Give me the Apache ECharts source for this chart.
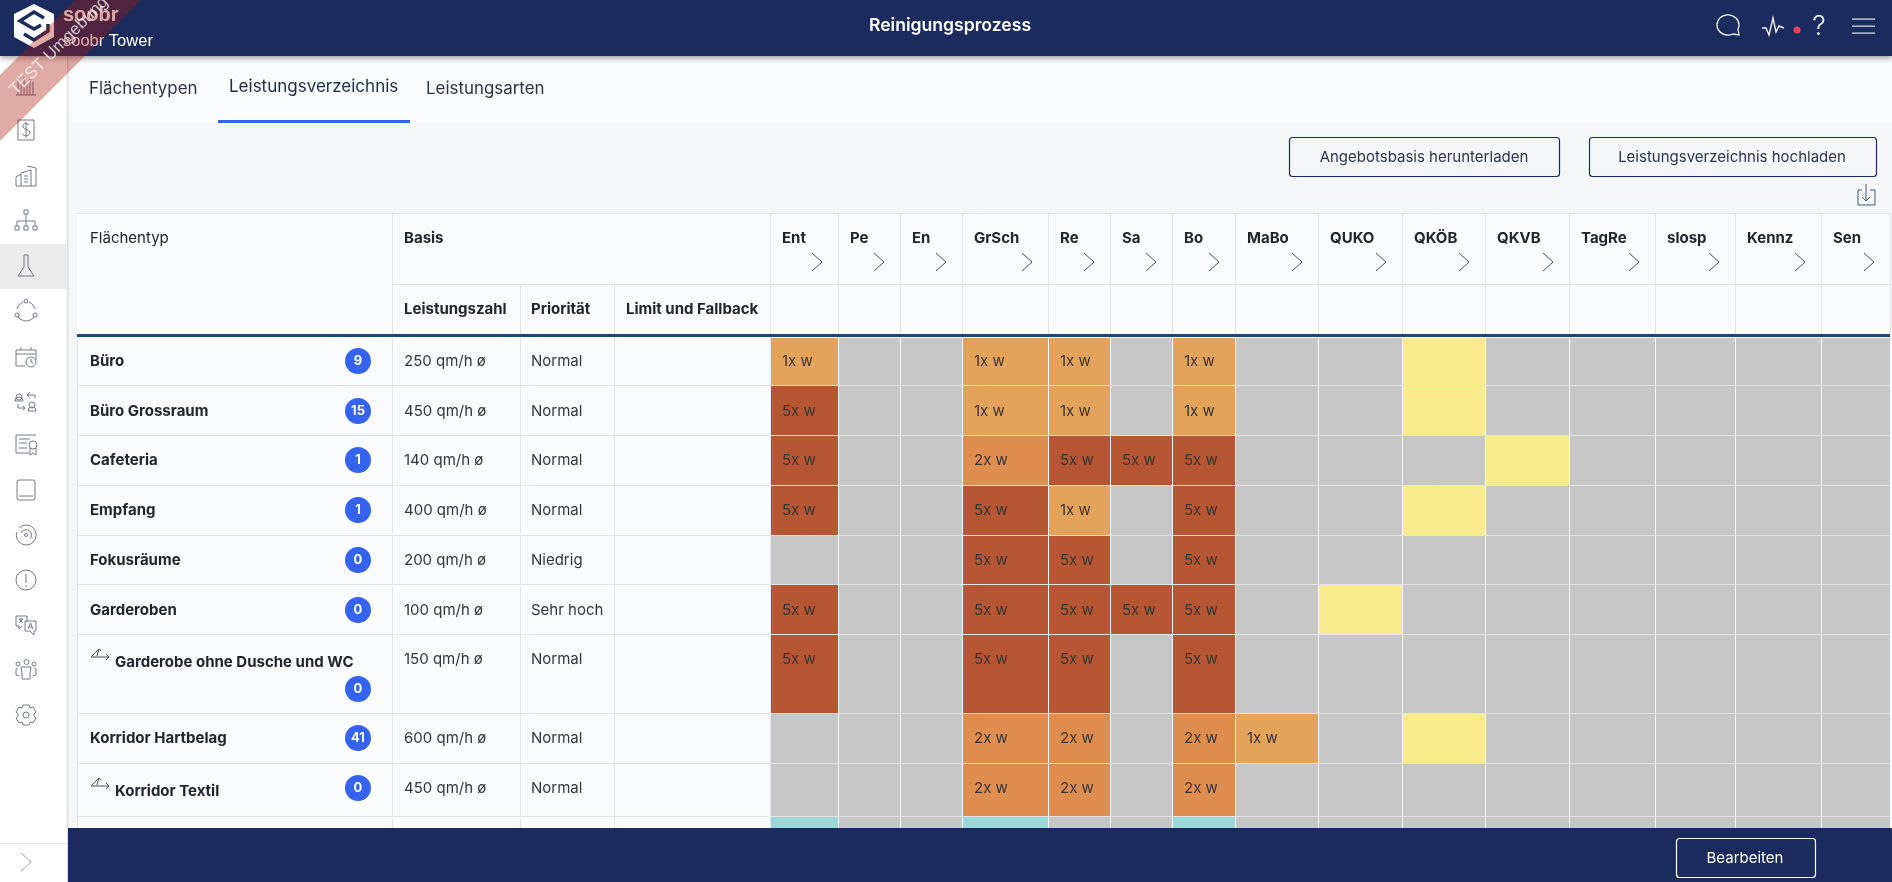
<!DOCTYPE html>
<html>
<head>
<meta charset="utf-8">
<title>Reinigungsprozess</title>
<style>
  html, body { margin: 0; height: 100%; background: #f5f6f8; }
  #main { width: 1892px; height: 882px; }
</style>
<script src="https://cdn.jsdelivr.net/npm/echarts@6/dist/echarts.min.js"></script>
</head>
<body>
<div id="main"></div>
<script>
// table content
const columns = ['Ent', 'Pe', 'En', 'GrSch', 'Re', 'Sa', 'Bo', 'MaBo', 'QUKO', 'QKÖB', 'QKVB', 'TagRe', 'slosp', 'Kennz', 'Sen'];
const areaTypes = ['Büro', 'Büro Grossraum', 'Cafeteria', 'Empfang', 'Fokusräume', 'Garderoben', 'Garderobe ohne Dusche und WC', 'Korridor Hartbelag', 'Korridor Textil', ''];
const counts = [9, 15, 1, 1, 0, 0, 0, 41, 0, null];
const performance = ['250 qm/h ø', '450 qm/h ø', '140 qm/h ø', '400 qm/h ø', '200 qm/h ø', '100 qm/h ø', '150 qm/h ø', '600 qm/h ø', '450 qm/h ø', ''];
const priorities = ['Normal', 'Normal', 'Normal', 'Normal', 'Niedrig', 'Sehr hoch', 'Normal', 'Normal', 'Normal', ''];
const linkedRows = [6, 8];

// one list per row: '' = grey, Y = yellow, T = teal, otherwise the frequency
const rowBuero = ['1x w', '', '', '1x w', '1x w', '', '1x w', '', '', 'Y', '', '', '', '', ''];
const rowGrossraum = ['5x w', '', '', '1x w', '1x w', '', '1x w', '', '', 'Y', '', '', '', '', ''];
const rowCafeteria = ['5x w', '', '', '2x w', '5x w', '5x w', '5x w', '', '', '', 'Y', '', '', '', ''];
const rowEmpfang = ['5x w', '', '', '5x w', '1x w', '', '5x w', '', '', 'Y', '', '', '', '', ''];
const rowFokus = ['', '', '', '5x w', '5x w', '', '5x w', '', '', '', '', '', '', '', ''];
const rowGarderoben = ['5x w', '', '', '5x w', '5x w', '5x w', '5x w', '', 'Y', '', '', '', '', '', ''];
const rowGarderobeOhne = ['5x w', '', '', '5x w', '5x w', '', '5x w', '', '', '', '', '', '', '', ''];
const rowHartbelag = ['', '', '', '2x w', '2x w', '', '2x w', '1x w', '', 'Y', '', '', '', '', ''];
const rowTextil = ['', '', '', '2x w', '2x w', '', '2x w', '', '', '', '', '', '', '', ''];
const rowCutOff = ['T', '', '', 'T', '', '', 'T', '', '', '', '', '', '', '', ''];
const rows = [rowBuero, rowGrossraum, rowCafeteria, rowEmpfang, rowFokus, rowGarderoben, rowGarderobeOhne, rowHartbelag, rowTextil, rowCutOff];

// layout of the table, in axis units (the axes run 1:1 with the page)
const colEdges = [770, 838, 900, 962, 1048, 1110, 1172, 1235, 1318, 1402, 1485, 1569, 1655, 1735, 1821, 1890];
const rowEdges = [337, 385, 435, 485, 535, 584, 634, 713, 763, 816, 866];
const rowTextY = [361, 411, 460, 510, 560, 610, 659, 738, 788, 840];
const leftEdges = [77, 392, 520, 614, 770];

const cellColors = { '1x w': '#e3a35a', '2x w': '#de8d4e', '5x w': '#b65632', Y: '#f9ea8e', T: '#9bd8d8', '': '#c7c7c7' };
const NAVY = '#1b2b5e';
const BLUE = '#3563f0';
const LINE = '#e2e4e8';
const INK = '#22252c';
const FONT = 'Inter, "Noto Sans", sans-serif';

const cellData = [];
rows.forEach((row, r) => row.forEach((v, c) => cellData.push([c, r, v])));
const rowData = areaTypes.map((name, r) => [r]);

function txt(text, x, y, font, fill, align) {
  return { type: 'text', style: { text, x, y, font, fill: fill || INK, align: align || 'left', verticalAlign: 'middle' } };
}

function renderCell(params, api) {
  const c = api.value(0), r = api.value(1);
  const v = rows[r][c];
  const p0 = api.coord([colEdges[c], rowEdges[r]]);
  const p1 = api.coord([colEdges[c + 1], rowEdges[r + 1]]);
  const rect = { type: 'rect', shape: { x: p0[0] + 1, y: p0[1] + 1, width: p1[0] - p0[0] - 1, height: p1[1] - p0[1] - 1 }, style: { fill: cellColors[v] } };
  const children = [rect];
  if (v.includes('x')) {
    const p = api.coord([colEdges[c] + 12, rowTextY[r]]);
    children.push(txt(v, p[0], p[1], '15px ' + FONT, '#3a3532'));
  }
  return { type: 'group', children };
}

function renderRow(params, api) {
  const r = api.value(0);
  const top = api.coord([leftEdges[0], rowEdges[r]]);
  const bottom = api.coord([leftEdges[4], rowEdges[r + 1]]);
  const y = rowTextY[r];
  const linked = linkedRows.includes(r);
  const children = [
    { type: 'rect', shape: { x: top[0], y: top[1] + 1, width: bottom[0] - top[0], height: bottom[1] - top[1] - 1 }, style: { fill: '#fafbfd' } },
    { type: 'line', shape: { x1: top[0], y1: bottom[1] + 0.5, x2: 1890, y2: bottom[1] + 0.5 }, style: { stroke: LINE, lineWidth: 1 } }
  ];
  leftEdges.forEach((e) => {
    const x = api.coord([e, 0])[0] + 0.5;
    children.push({ type: 'line', shape: { x1: x, y1: top[1], x2: x, y2: bottom[1] }, style: { stroke: LINE, lineWidth: 1 } });
  });
  const nameY = linked ? y + 3 : y;
  children.push(txt(areaTypes[r], linked ? 115 : 90, nameY, '700 15px ' + FONT));
  children.push(txt(performance[r], 404, y, '15px ' + FONT, '#33363d'));
  children.push(txt(priorities[r], 531, y, '15px ' + FONT, '#33363d'));
  if (counts[r] !== null) {
    const by = r === 6 ? 689 : y;
    children.push({ type: 'circle', shape: { cx: 358, cy: by, r: 13 }, style: { fill: BLUE } });
    children.push(txt(String(counts[r]), 358, by, '700 13px ' + FONT, '#fff', 'center'));
  }
  if (linked) {
    children.push({ type: 'path', x: 91, y: y - 10, shape: { pathData: 'M0 8 L8 0 L10 2 M8 0 L6 7 M0 8 L18 8 M15 5 L18 8 L15 11' }, style: { fill: null, stroke: '#4b4e58', lineWidth: 1 } });
  }
  return { type: 'group', children };
}

// thin icons of the side bar and the header, drawn around 0,0
const sideIcons = [
  [85, 'M-10 10 L10 10 M-8 -8 L-8 10 M-5 -4 L-5 10 M-2 -8 L-2 10 M1 -2 L1 10 M4 -6 L4 10 M7 -3 L7 10'],
  [130, 'M-8 -10 L8 -10 L8 10 L-8 10 Z M3 -5 C0 -8 -4 -6 -3 -3 C-2 0 3 -1 4 2 C4 6 -1 7 -4 4 M0 -8 L0 8'],
  [176, 'M-10 10 L-10 1 L-5 -2 L-5 10 M-5 -3 L5 -6 L5 10 M1 -10 L10 -8 L10 10 L-10 10 M-2 0 L2 0 M-2 3 L2 3 M-2 6 L2 6'],
  [220, 'M-2 -10 L2 -10 L2 -6 L-2 -6 Z M0 -6 L0 1 M-9 1 L9 1 M-9 1 L-9 6 M0 1 L0 6 M9 1 L9 6 M-11 6 L-7 6 L-7 10 L-11 10 Z M-2 6 L2 6 L2 10 L-2 10 Z M7 6 L11 6 L11 10 L7 10 Z'],
  [266, 'M-2 -11 L2 -11 L2 1 L8 10 L-8 10 L-2 1 Z'],
  [311, 'M-9 -2 A10 10 0 0 1 -3 -9 M3 -9 A10 10 0 0 1 9 -2 M8 6 A10 10 0 0 1 -8 6 M-2 -10 A2 2 0 1 1 2 -10 A2 2 0 1 1 -2 -10 M-11 4 A2 2 0 1 1 -7 4 A2 2 0 1 1 -11 4 M7 4 A2 2 0 1 1 11 4 A2 2 0 1 1 7 4'],
  [356, 'M-1 10 L-10 10 L-10 -6 L10 -6 L10 4 M-10 -2 L10 -2 M-5 -9 L-5 -6 M5 -9 L5 -6 M0 6 A5 5 0 1 1 10 6 A5 5 0 1 1 0 6 M5 3 L5 6 L7 7'],
  [401, 'M-10 -4 A3 3 0 1 1 -4 -4 A3 3 0 1 1 -10 -4 M-11 0 A3 3 0 0 1 -3 0 L-11 0 M4 -9 L1 -6 L4 -3 M1 -6 L9 -6 L9 -3 M-8 3 L-8 7 L-1 7 M-3 5 L-1 7 L-3 9 M3 4 A3 3 0 1 1 9 4 A3 3 0 1 1 3 4 M2 10 A4 4 0 0 1 10 10 L2 10'],
  [445, 'M10 -10 L-10 -10 L-10 8 L3 8 M-7 -6 L4 -6 M-7 -2 L1 -2 M-7 3 L1 3 M3 0 A4 4 0 1 1 11 0 A4 4 0 1 1 3 0 M4 3 L4 10 L7 8 L10 10 L10 3'],
  [490, 'M-7 -10 L7 -10 Q9 -10 9 -8 L9 8 Q9 10 7 10 L-7 10 Q-9 10 -9 8 L-9 -8 Q-9 -10 -7 -10 Z M-7 6 L7 6'],
  [535, 'M-7 -7 A10 10 0 1 1 -9 4 M-9 4 A10 10 0 0 1 -9 -3 M-5 -2 A5.5 5.5 0 1 1 4 4 M-1.5 0 A1.5 1.5 0 1 1 1.5 0 A1.5 1.5 0 1 1 -1.5 0'],
  [580, 'M-10 0 A10 10 0 1 1 10 0 A10 10 0 1 1 -10 0 M0 -6 L0 3 M0 5 L0 7'],
  [625, 'M1 -3 L1 -9 L-10 -9 L-10 1 L-7 1 L-7 4 L-4 1 M-7 -6 L-3 -6 M-5 -7 L-5 -6 M-7 -2 L-3 -6 M-3 -2 L-7 -6 M-1 -4 L10 -4 L10 6 L8 6 L8 10 L4 6 L-1 6 Z M2 4 L4.5 -2 L7 4 M3 2 L6 2'],
  [670, 'M-2 -8 A2.5 2.5 0 1 1 3 -8 A2.5 2.5 0 1 1 -2 -8 M-10 -6 A2 2 0 1 1 -6 -6 A2 2 0 1 1 -10 -6 M6 -6 A2 2 0 1 1 10 -6 A2 2 0 1 1 6 -6 M-5 -3 L5 -3 L4 3 L4 9 L-4 9 L-4 3 Z M-8 -2 L-10 -1 L-10 5 L-7 6 M8 -2 L10 -1 L10 5 L7 6'],
  [715, 'M-3 -10 L3 -10 L4 -7 L7 -8 L10 -3 L8 -1 L8 1 L10 3 L7 8 L4 7 L3 10 L-3 10 L-4 7 L-7 8 L-10 3 L-8 1 L-8 -1 L-10 -3 L-7 -8 L-4 -7 Z M-3 0 A3 3 0 1 1 3 0 A3 3 0 1 1 -3 0']
];

// paths only exist in custom series, so the icons get two small series of their own
function icon(x, y, pathData, stroke, lineWidth) {
  return { type: 'path', x, y, shape: { pathData }, style: { fill: null, stroke, lineWidth: lineWidth || 1 } };
}
function box(x, y, w, h, fill, z, extra) {
  return { type: 'rect', z: z || 0, silent: true, shape: { x, y, width: w, height: h, r: (extra && extra.r) || 0 }, style: Object.assign({ fill }, extra && extra.style) };
}
function label(text, x, y, font, fill, align, z) {
  return { type: 'text', z: z || 1, silent: true, x, y, style: { text, font, fill: fill || INK, align: align || 'left', verticalAlign: 'middle' } };
}
function outlineButton(x, y, w, h, stroke, z) {
  return box(x + 0.5, y + 0.5, w, h, 'transparent', z, { r: 3, style: { stroke, lineWidth: 1.2 } });
}

const under = [
  // table head
  box(77, 213, 1813, 122, '#fafbfd'),
  { type: 'line', z: 1, silent: true, shape: { x1: 77, y1: 213.5, x2: 1890, y2: 213.5 }, style: { stroke: LINE } },
  { type: 'line', z: 1, silent: true, shape: { x1: 392, y1: 284.5, x2: 1890, y2: 284.5 }, style: { stroke: LINE } },
  box(77, 334, 1813, 3, '#1c4a75', 4),
  label('Flächentyp', 90, 238, '15px ' + FONT),
  label('Basis', 404, 238, '700 15px ' + FONT),
  label('Leistungszahl', 404, 309, '700 15px ' + FONT),
  label('Priorität', 531, 309, '700 15px ' + FONT),
  label('Limit und Fallback', 626, 309, '700 15px ' + FONT),
  // tabs
  box(68, 56, 1824, 67, '#fafbfd'),
  box(218, 120, 192, 3, BLUE, 1),
  label('Flächentypen', 89, 89, '16.9px ' + FONT, '#2c3242'),
  label('Leistungsverzeichnis', 229, 87, '17px ' + FONT, '#1f2a4a'),
  label('Leistungsarten', 426, 89, '16.9px ' + FONT, '#2c3242'),
  // buttons above the table
  outlineButton(1289, 137, 270, 39, NAVY),
  label('Angebotsbasis herunterladen', 1424, 157, '15px ' + FONT, '#2b3550', 'center'),
  outlineButton(1589, 137, 287, 39, NAVY),
  label('Leistungsverzeichnis hochladen', 1732, 157, '15px ' + FONT, '#2b3550', 'center')
];
[392, 520, 614].concat(colEdges).forEach((x, i) => {
  const y1 = i === 0 || i > 2 ? 213 : 284;
  under.push({ type: 'line', z: 1, silent: true, shape: { x1: x + 0.5, y1, x2: x + 0.5, y2: 334 }, style: { stroke: LINE } });
});
columns.forEach((name, i) => {
  under.push(label(name, colEdges[i] + 12, 238, '700 15px ' + FONT));
});
const iconsLow = [icon(1866, 195, 'M-4 -5 L-8 -5 L-8 10 L9 10 L9 -5 L4 -5 M0 -11 L0 6 M-4 2 L0 6 L4 2', '#3a5a8c')];
columns.forEach((name, i) => {
  iconsLow.push(icon(colEdges[i + 1] - 21, 262, 'M-5 -9 L5 0 L-5 9', '#3f4a63'));
});

const over = [
  // side bar
  box(0, 56, 67, 826, '#ffffff', 10),
  box(67, 56, 1.5, 826, '#dddddd', 10),
  box(0, 244, 67, 45, '#ebebeb', 10),
  box(0, 843, 67, 1, '#e2e2e2', 11),
  // footer
  box(68, 828, 1824, 54, NAVY, 10),
  outlineButton(1676, 838, 139, 39, '#ffffff', 11),
  label('Bearbeiten', 1745, 858, '15px ' + FONT, '#ffffff', 'center', 11),
  // header
  box(0, 0, 1892, 56, NAVY, 12, { style: { shadowBlur: 6, shadowOffsetY: 2, shadowColor: 'rgba(0,0,0,0.4)' } }),
  { type: 'polygon', z: 13, silent: true, shape: { points: [[34, 4], [54, 14], [54, 37], [34, 48], [14, 37], [14, 14]] }, style: { fill: '#ffffff' } },
  label('soobr', 63, 15, '700 20px "Liberation Sans", sans-serif', '#ffffff', 'left', 13),
  label('soobr Tower', 63, 41, '16.5px "Liberation Sans", sans-serif', '#ffffff', 'left', 13),
  label('Reinigungsprozess', 950, 26, '600 17.6px ' + FONT, '#ffffff', 'center', 13),
  { type: 'circle', z: 13, silent: true, shape: { cx: 1797, cy: 30, r: 3.5 }, style: { fill: '#ef4056' } },
  label('?', 1819, 27, '300 27px ' + FONT, '#f0f2f6', 'center', 13),
  box(1852, 18.5, 23, 1.2, '#e6e8ee', 13),
  box(1852, 25.5, 23, 1.2, '#e6e8ee', 13),
  box(1852, 32.5, 23, 1.2, '#e6e8ee', 13),
  // test banner across the corner
  { type: 'polygon', z: 20, silent: true, shape: { points: [[0, 75], [75, 0], [141, 0], [0, 141]] }, style: { fill: 'rgba(170,24,14,0.37)' } },
  { type: 'text', z: 21, silent: true, x: 59, y: 46, rotation: Math.PI / 4, style: { text: 'TEST Umgebung', font: '17px "Liberation Sans", sans-serif', fill: 'rgba(255,255,255,0.72)', align: 'center', verticalAlign: 'middle' } }
];
const iconsHigh = [
  icon(26, 862, 'M-5 -9 L5 0 L-5 9', '#9a9da6'),
  icon(0, 0, 'M44 18 L34 12 L20 21 L34 29 L41 25', NAVY, 3.5),
  icon(0, 0, 'M48 24 L48 31 L34 40 L24 34', NAVY, 3.5),
  icon(1728, 25, 'M-11 0 A11 10 0 1 1 10 4 L11 10 L5 9 A11 10 0 0 1 -11 0', '#f0f2f6', 1.3),
  icon(1773, 27, 'M-11 1 L-7 1 L-4 8 L0 -9 L3 5 L6 -1 L11 1', '#f0f2f6', 1.4)
];
sideIcons.forEach((d) => iconsHigh.push(icon(26, d[0], d[1], '#74778a')));

function iconSeries(list, z) {
  return { type: 'custom', coordinateSystem: 'none', z, silent: true, data: list.map((el, i) => i), renderItem: (params) => list[params.dataIndex] };
}

const chart = echarts.init(document.getElementById('main'));
chart.setOption({
  animation: false,
  backgroundColor: '#f5f6f8',
  tooltip: { show: false },
  grid: { left: 0, right: 0, top: 0, bottom: 0 },
  xAxis: { type: 'value', min: 0, max: 1892, show: false },
  yAxis: { type: 'value', min: 0, max: 882, inverse: true, show: false },
  graphic: { elements: under.concat(over) },
  series: [
    { type: 'custom', name: 'rows', z: 3, silent: true, clip: false, data: rowData, renderItem: renderRow },
    { type: 'custom', name: 'cells', z: 4, silent: true, clip: false, data: cellData, encode: { x: 0, y: 1 }, renderItem: renderCell },
    iconSeries(iconsLow, 5),
    iconSeries(iconsHigh, 14)
  ]
});
</script>
</body>
</html>
